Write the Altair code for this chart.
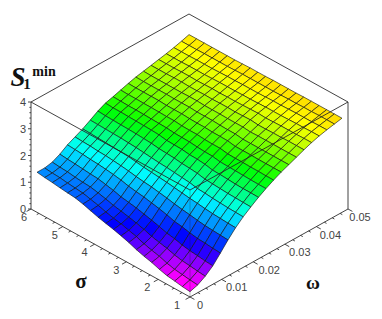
import altair as alt

sigma_start, sigma_end = 1.0, 5.81
omega_start, omega_end = 0.0, 0.0481
# surface heights: one row per sigma step, one column per omega step
Z = [
[.20,.29,.46,.69,1.01,1.34,1.64,1.89,2.10,2.30,2.47,2.63,2.77,2.89,3.01,3.13,3.24,3.33,3.40,3.46,3.52],
[.23,.32,.49,.71,1.03,1.36,1.65,1.90,2.11,2.31,2.47,2.63,2.77,2.89,3.01,3.13,3.24,3.33,3.40,3.46,3.52],
[.28,.36,.53,.75,1.06,1.38,1.67,1.91,2.12,2.31,2.48,2.64,2.77,2.89,3.01,3.13,3.23,3.32,3.39,3.46,3.52],
[.32,.40,.56,.78,1.08,1.40,1.69,1.93,2.13,2.32,2.49,2.64,2.77,2.89,3.01,3.12,3.23,3.32,3.39,3.45,3.52],
[.40,.47,.62,.83,1.13,1.44,1.72,1.95,2.15,2.34,2.50,2.65,2.78,2.89,3.01,3.12,3.23,3.31,3.39,3.45,3.52],
[.50,.57,.71,.91,1.20,1.49,1.76,1.98,2.17,2.36,2.51,2.65,2.78,2.89,3.01,3.11,3.22,3.30,3.38,3.44,3.52],
[.57,.64,.77,.96,1.24,1.53,1.79,2.00,2.19,2.37,2.52,2.66,2.78,2.89,3.00,3.11,3.21,3.30,3.37,3.44,3.51],
[.66,.72,.84,1.05,1.33,1.58,1.83,2.06,2.25,2.43,2.57,2.71,2.83,2.93,3.03,3.14,3.23,3.30,3.37,3.43,3.51],
[.77,.83,.94,1.13,1.40,1.64,1.87,2.09,2.28,2.46,2.58,2.71,2.84,2.93,3.03,3.13,3.22,3.29,3.36,3.42,3.51],
[.86,.91,1.02,1.20,1.46,1.69,1.91,2.12,2.30,2.47,2.60,2.72,2.84,2.94,3.03,3.12,3.21,3.28,3.35,3.42,3.51],
[.94,.99,1.09,1.27,1.52,1.74,1.94,2.15,2.34,2.51,2.63,2.75,2.86,2.96,3.04,3.13,3.20,3.28,3.35,3.42,3.50],
[1.01,1.05,1.15,1.32,1.56,1.77,1.97,2.17,2.36,2.52,2.64,2.75,2.86,2.96,3.04,3.13,3.20,3.27,3.35,3.42,3.50],
[1.08,1.12,1.21,1.37,1.61,1.81,2.00,2.20,2.38,2.53,2.65,2.76,2.87,2.96,3.04,3.12,3.19,3.27,3.34,3.42,3.50],
[1.17,1.21,1.29,1.45,1.68,1.86,2.04,2.23,2.42,2.58,2.68,2.79,2.89,2.98,3.06,3.13,3.20,3.27,3.34,3.41,3.49],
[1.26,1.28,1.36,1.51,1.73,1.90,2.08,2.26,2.44,2.60,2.69,2.79,2.89,2.98,3.06,3.12,3.19,3.26,3.33,3.40,3.48],
[1.33,1.35,1.42,1.57,1.77,1.93,2.10,2.28,2.46,2.61,2.70,2.80,2.89,2.98,3.05,3.12,3.18,3.25,3.32,3.40,3.48],
[1.36,1.38,1.44,1.59,1.80,1.96,2.11,2.30,2.47,2.62,2.71,2.81,2.91,2.99,3.05,3.13,3.19,3.25,3.32,3.40,3.48],
[1.39,1.41,1.47,1.62,1.82,1.97,2.13,2.31,2.48,2.63,2.72,2.81,2.91,2.99,3.05,3.13,3.19,3.25,3.32,3.40,3.48],
[1.43,1.45,1.51,1.65,1.85,2.00,2.14,2.32,2.49,2.64,2.72,2.82,2.91,2.99,3.05,3.12,3.18,3.24,3.31,3.39,3.48],
[1.46,1.47,1.53,1.67,1.87,2.01,2.16,2.33,2.50,2.64,2.73,2.82,2.91,2.99,3.05,3.12,3.18,3.24,3.31,3.39,3.48],
[1.50,1.50,1.56,1.70,1.89,2.03,2.17,2.34,2.52,2.66,2.74,2.83,2.92,3.00,3.06,3.12,3.18,3.24,3.31,3.39,3.48],
]
sigma_ticks = [1, 2, 3, 4, 5, 6]
omega_ticks = [0, 0.01, 0.02, 0.03, 0.04, 0.05]
omega_tick_labels = ["0", "0.01", "0.02", "0.03", "0.04", "0.05"]
z_ticks = [0, 1, 2, 3, 4]
hue_stops = [0.3, 1.0, 1.9, 2.6, 3.35, 3.6]
hue_colors = ["#ff00ff", "#0000ff", "#00ffff", "#00ff00", "#ffff00", "#ffc800"]


def proj(s, w, z):
    return [190 - 31.8 * (s - 1) + 3160 * w, 297 - 17.6 * (s - 1) - 1760 * w - 26.75 * z]


n = len(Z) - 1
m = len(Z[0]) - 1
sig = [sigma_start + (sigma_end - sigma_start) * i / n for i in range(n + 1)]
omg = [omega_start + (omega_end - omega_start) * j / m for j in range(m + 1)]

cells = []
for i in range(n - 1, -1, -1):
    for j in range(m - 1, -1, -1):
        idx = [(i, j), (i + 1, j), (i + 1, j + 1), (i, j + 1), (i, j)]
        ring = [proj(sig[a], omg[b], Z[a][b]) for a, b in idx]
        cells.append({"type": "Feature", "geometry": {"type": "Polygon", "coordinates": [ring]},
                      "properties": {"z": sum(Z[a][b] for a, b in idx[:4]) / 4}})


def line(*pts):
    return {"type": "Feature", "geometry": {"type": "LineString", "coordinates": [proj(*p) for p in pts]}, "properties": {}}


box = [
    line((6, 0, 0), (1, 0, 0), (1, .05, 0)),
    line((6, 0, 0), (6, 0, 4), (6, .05, 4), (1, .05, 4), (1, .05, 0)),
    line((6, 0, 4), (1, 0, 4), (1, .05, 4)),
]
hidden = [line((1, 0, 4), (1, 0, 0))]

ticks = []
def tick(p, dx, dy):
    a = proj(*p)
    return {"type": "Feature", "geometry": {"type": "LineString", "coordinates": [a, [a[0] + dx, a[1] + dy]]}, "properties": {}}

for k in range(21):
    ticks.append(tick((6, 0, k * 0.2), -3 if k % 5 == 0 else -1.6, 0))
    s = 1 + k * 0.25
    ticks.append(tick((s, 0, 0), *((-4.4, 2.4) if k % 4 == 0 else (-2.2, 1.2))))
    w = k * 0.0025
    ticks.append(tick((1, w, 0), *((4.4, 2.4) if k % 4 == 0 else (2.2, 1.2))))

labels = []
for v, dx in zip(sigma_ticks, [-13, -11, -10, -10, -8, -7]):
    a = proj(v, 0, 0)
    labels.append({"t": str(v), "lon": a[0] + dx, "lat": a[1] + 9})
for v, t, dx in zip(omega_ticks, omega_tick_labels, [10, 15, 16, 15, 14, 12]):
    a = proj(1, v, 0)
    labels.append({"t": t, "lon": a[0] + dx, "lat": a[1] + 9})
for v in z_ticks:
    a = proj(6, 0, v)
    labels.append({"t": str(v), "lon": a[0] - 8, "lat": a[1] + 1})


def geo(features):
    return alt.Chart(alt.Data(values=features, format=alt.DataFormat(type="json")))


def txt(rows, **kw):
    return alt.Chart(alt.Data(values=rows)).mark_text(baseline="middle", align="center", **kw).encode(
        longitude="lon:Q", latitude="lat:Q", text="t:N")


surface = geo(cells).mark_geoshape(stroke="#111111", strokeWidth=0.9, strokeOpacity=0.7).encode(
    color=alt.Color("properties.z:Q", legend=None,
                    scale=alt.Scale(domain=hue_stops, range=hue_colors, interpolate="rgb", clamp=True)))
box_layer = geo(box).mark_geoshape(filled=False, stroke="#222222", strokeWidth=1, strokeOpacity=0.85)
hidden_layer = geo(hidden).mark_geoshape(filled=False, stroke="#222222", strokeWidth=1, strokeOpacity=0.3)
tick_layer = geo(ticks).mark_geoshape(filled=False, stroke="#333333", strokeWidth=0.9)

chart = alt.layer(
    surface, box_layer, hidden_layer, tick_layer,
    txt(labels, font="Liberation Sans", fontSize=11, color="#444444"),
    txt([{"t": "σ", "lon": 81, "lat": 282}], font="Liberation Serif", fontSize=21, fontWeight="bold", color="#111111"),
    txt([{"t": "ω", "lon": 313, "lat": 283}], font="Liberation Serif", fontSize=19, fontWeight="bold", color="#111111"),
    txt([{"t": "S", "lon": 18, "lat": 78}], font="Liberation Serif", fontSize=27, fontWeight="bold", fontStyle="italic", color="#111111"),
    txt([{"t": "1", "lon": 27, "lat": 84}], font="Liberation Serif", fontSize=15, fontWeight="bold", color="#111111"),
    txt([{"t": "min", "lon": 44, "lat": 72}], font="Liberation Serif", fontSize=14, fontWeight="bold", color="#111111"),
).project(type="identity", scale=1, translate=[-8, -8]).properties(
    width=366, height=304, padding=0, autosize=alt.AutoSizeParams(type="none")
).configure_view(stroke=None)

chart.save("out.html", embed_options={"renderer": "svg", "actions": False})
